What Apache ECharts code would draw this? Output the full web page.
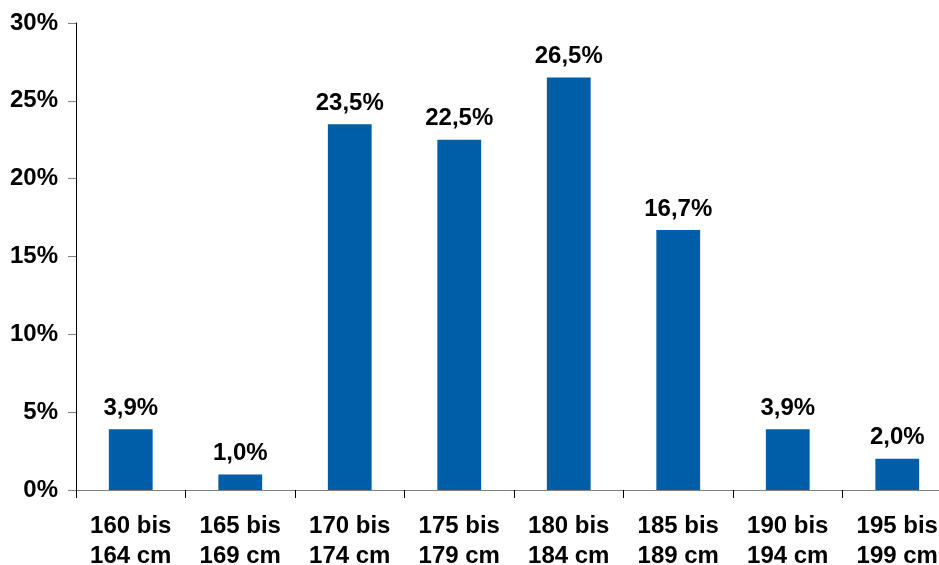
<!DOCTYPE html>
<html>
<head>
<meta charset="utf-8">
<script src="https://cdn.jsdelivr.net/npm/echarts@6/dist/echarts.min.js"></script>
<style>
  html, body { margin: 0; padding: 0; background: #fff; }
  #chart { width: 939px; height: 565px; }
</style>
</head>
<body>
<div id="chart"></div>
<script>
// Height classes (cm) and share of respondents per class (%)
const categories = ['160 bis\n164 cm', '165 bis\n169 cm', '170 bis\n174 cm', '175 bis\n179 cm',
                    '180 bis\n184 cm', '185 bis\n189 cm', '190 bis\n194 cm', '195 bis\n199 cm'];
const shares = [3.9, 1.0, 23.5, 22.5, 26.5, 16.7, 3.9, 2.0];
const yTicks = [0, 5, 10, 15, 20, 25, 30];

const font = 'Liberation Sans, Arial, sans-serif';
const chart = echarts.init(document.getElementById('chart'), null, { renderer: 'canvas' });

chart.setOption({
  animation: false,
  grid: {
    left: 76, right: -13, top: 23, bottom: 75,
    containLabel: false,
    outerBoundsMode: 'none'
  },
  xAxis: {
    type: 'category',
    data: categories,
    axisLine: { lineStyle: { color: '#808080', width: 1 } },
    axisTick: { show: true, length: 8, lineStyle: { color: '#000' } },
    axisLabel: {
      interval: 0,
      margin: 21,
      color: '#000',
      fontFamily: font,
      fontWeight: 'bold',
      fontSize: 24,
      lineHeight: 30
    }
  },
  yAxis: {
    type: 'value',
    min: yTicks[0],
    max: yTicks[yTicks.length - 1],
    interval: yTicks[1] - yTicks[0],
    splitLine: { show: false },
    axisLine: { show: true, lineStyle: { color: '#000', width: 1 } },
    axisTick: { show: true, length: 8, lineStyle: { color: '#808080' } },
    axisLabel: {
      margin: 18,
      color: '#000',
      fontFamily: font,
      fontWeight: 'bold',
      fontSize: 24,
      formatter: '{value}%'
    }
  },
  series: [{
    type: 'bar',
    data: shares,
    barWidth: '40%',
    itemStyle: { color: '#005EA8' },
    label: {
      show: true,
      position: 'top',
      distance: 9,
      color: '#000',
      fontFamily: font,
      fontWeight: 'bold',
      fontSize: 24,
      formatter: p => p.value.toFixed(1).replace('.', ',') + '%'
    }
  }]
});
</script>
</body>
</html>
